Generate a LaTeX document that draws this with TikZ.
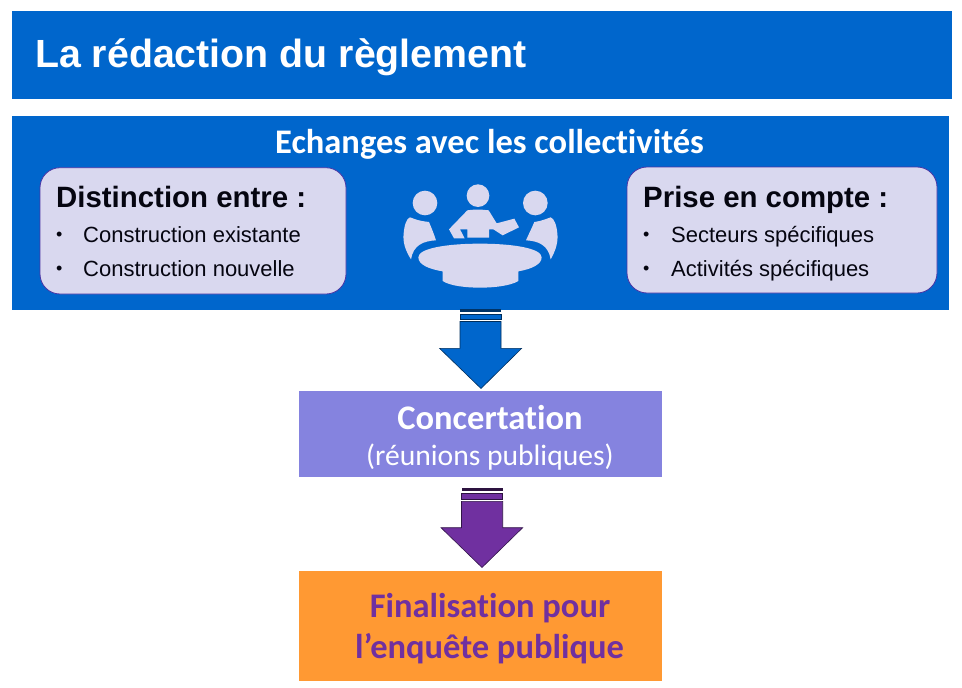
\documentclass[tikz,border=0pt]{standalone}
\usepackage{fontspec}
\setmainfont{Liberation Sans}
\newfontfamily\calfont[Ligatures=NoCommon]{Carlito}
\definecolor{bandblue}{HTML}{0066CC}
\definecolor{palelilac}{HTML}{D9D8EF}
\definecolor{edgeviolet}{HTML}{4A35A5}
\definecolor{concert}{HTML}{8583DF}
\definecolor{finalorange}{HTML}{FF9933}
\definecolor{arrowviolet}{HTML}{7030A0}
\definecolor{inkblack}{HTML}{050510}
\tikzset{
  x=1pt,y=-1pt,
  band/.style={fill=bandblue,draw=none},
  softbox/.style={fill=palelilac,draw=edgeviolet,line width=.8pt,rounded corners=20pt},
  flat/.style={draw=none},
  txt/.style={inner sep=0pt,anchor=base west,text=inkblack},
  ctr/.style={inner sep=0pt,anchor=base},
  icon/.style={fill=palelilac,draw=none},
  headfont/.style={font=\fontsize{29.4}{29.4}\selectfont\bfseries},
  linefont/.style={font=\fontsize{22}{22}\selectfont},
  dotfont/.style={font=\fontsize{18}{18}\selectfont},
  calbold/.style={font=\calfont\fontsize{34.5}{34.5}\selectfont\bfseries},
}
\newcommand{\blockarrow}[9]{% x1 x2 hl hr tipx headY tipY mainY colour
  \fill[#9,draw=black!55!#9,line width=.6pt] (#1,#8) -- (#2,#8) -- (#2,#6) -- (#4,#6) -- (#5,#7) -- (#3,#6) -- (#1,#6) -- cycle;
}
\begin{document}
\begin{tikzpicture}
\useasboundingbox (0,0) rectangle (962,688);
\fill[white] (0,0) rectangle (962,688);
\path[band] (12,11) rectangle (952,99);
\node[txt,text=white,font=\fontsize{39.3}{39.3}\selectfont\bfseries] (title) at (35,67) {La rédaction du règlement};
\path[band] (12,116) rectangle (949,310);
\node[ctr,text=white,calbold] (echanges) at (489.5,153.7) {Echanges avec les collectivités};
% left box
\path[softbox] (40,167.7) rectangle (346,294);
\node[txt,headfont] (dist) at (56,207) {Distinction entre :};
\node[txt,dotfont] (b1) at (56,240.7) {•};
\node[txt,linefont] (l1) at (83,242.2) {Construction existante};
\node[txt,dotfont] (b2) at (56,274.7) {•};
\node[txt,linefont] (l2) at (83,276.2) {Construction nouvelle};
% right box
\path[softbox] (627,167) rectangle (937,293);
\node[txt,headfont] (prise) at (643,207) {Prise en compte :};
\node[txt,dotfont] (b3) at (643,240.7) {•};
\node[txt,linefont] (r1) at (671,242.2) {Secteurs spécifiques};
\node[txt,dotfont] (b4) at (643,274.7) {•};
\node[txt,linefont] (r2) at (671,276.2) {Activités spécifiques};
% icon
\begin{scope}[shift={(380,170)},x=1pt/3,y=-1pt/3]
  \fill[icon] (135,99) circle[radius=37];
  \fill[icon] (294,77) circle[radius=34];
  \fill[icon] (466,99) circle[radius=37];
  % centre person
  \fill[icon] (262,121) .. controls (280,118) and (305,118) .. (326,121) -- (350,160) -- (403,146) -- (417,172) -- (368,196) -- (340,178) -- (327,178) -- (327,203) -- (262,203) -- (262,178) -- (240,178) -- (254,205) -- (222,205) -- (207,178) -- cycle;
  % left person
  \fill[icon] (90,142) .. controls (100,145) and (110,152) .. (147,156) .. controls (155,175) and (163,195) .. (168,211) .. controls (130,213) and (100,225) .. (93,268) .. controls (75,240) and (68,215) .. (71,190) .. controls (73,165) and (80,145) .. (90,142) -- cycle;
  % right person
  \fill[icon] (512,142) .. controls (502,145) and (490,152) .. (463,156) .. controls (455,175) and (445,195) .. (438,211) .. controls (475,213) and (505,225) .. (512,268) .. controls (528,240) and (535,215) .. (532,190) .. controls (530,165) and (522,145) .. (512,142) -- cycle;
  % table
  \fill[icon] (115,262) .. controls (115,235) and (200,221) .. (300,221) .. controls (400,221) and (485,235) .. (485,262) .. controls (485,285) and (450,298) .. (415,304) -- (415,333) .. controls (390,348) and (340,353) .. (300,353) .. controls (260,353) and (210,348) .. (188,333) -- (188,304) .. controls (150,298) and (115,285) .. (115,262) -- cycle;
\end{scope}
% first arrow
\fill[black!50!bandblue] (460,308.5) rectangle (501,311.7);
\fill[bandblue,draw=black!55!bandblue,line width=.6pt] (460,314) rectangle (501,319.3);
\blockarrow{460}{501}{439.5}{521.7}{481}{348.3}{388.5}{321.5}{bandblue}
% concertation
\path[flat,fill=concert] (299,391) rectangle (662,477);
\node[ctr,text=white,calbold] (conc) at (490,429.7) {Concertation};
\node[ctr,text=white,font=\calfont\fontsize{29.6}{29.6}\selectfont] (reun) at (490,465) {(réunions publiques)};
% second arrow
\fill[black!60!arrowviolet] (461.5,488.3) rectangle (502.7,490.7);
\fill[arrowviolet,draw=black!60!arrowviolet,line width=.6pt] (461.5,493.3) rectangle (502.7,499);
\blockarrow{461.5}{502.7}{441}{522.7}{482}{527.7}{567.5}{501.3}{arrowviolet}
% finalisation
\path[flat,fill=finalorange] (299,571) rectangle (662,681);
\node[ctr,text=arrowviolet,calbold] (fin1) at (490,617.7) {Finalisation pour};
\node[ctr,text=arrowviolet,calbold] (fin2) at (489.5,658.5) {l’enquête publique};
\end{tikzpicture}
\end{document}
